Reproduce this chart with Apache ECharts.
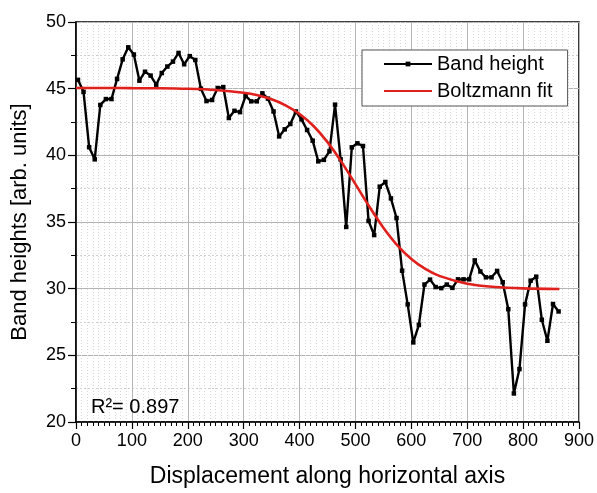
<!DOCTYPE html>
<html><head><meta charset="utf-8">
<script src="https://cdn.jsdelivr.net/npm/echarts@6/dist/echarts.min.js"></script>
<style>html,body{margin:0;padding:0;background:#fff}#c{width:597px;height:493px}</style>
</head><body><div id="c"></div>
<script>
const displacement = [3.5, 13.5, 23.5, 33.5, 43.5, 53.5, 63.5, 73.5, 83.5, 93.5,
  103.5, 113.5, 123.5, 133.5, 143.5, 153.5, 163.5, 173.5, 183.5, 193.5,
  203.5, 213.5, 223.5, 233.5, 243.5, 253.5, 263.5, 273.5, 283.5, 293.5,
  303.5, 313.5, 323.5, 333.5, 343.5, 353.5, 363.5, 373.5, 383.5, 393.5,
  403.5, 413.5, 423.5, 433.5, 443.5, 453.5, 463.5, 473.5, 483.5, 493.5,
  503.5, 513.5, 523.5, 533.5, 543.5, 553.5, 563.5, 573.5, 583.5, 593.5,
  603.5, 613.5, 623.5, 633.5, 643.5, 653.5, 663.5, 673.5, 683.5, 693.5,
  703.5, 713.5, 723.5, 733.5, 743.5, 753.5, 763.5, 773.5, 783.5, 793.5,
  803.5, 813.5, 823.5, 833.5, 843.5, 853.5, 863.5];
const bandHeight = [45.66, 44.76, 40.61, 39.70, 43.78, 44.22, 44.22, 45.73, 47.20, 48.10,
  47.56, 45.60, 46.27, 45.98, 45.30, 46.17, 46.66, 47.03, 47.68, 46.83,
  47.44, 47.15, 45.00, 44.07, 44.15, 45.05, 45.12, 42.80, 43.34, 43.24,
  44.46, 44.05, 44.05, 44.65, 44.25, 43.29, 41.42, 41.95, 42.35, 43.29,
  42.70, 41.90, 41.10, 39.55, 39.66, 40.30, 43.80, 39.70, 34.63, 40.60,
  40.90, 40.70, 35.08, 34.02, 37.65, 38.00, 36.77, 35.30, 31.35, 28.82,
  25.97, 27.28, 30.31, 30.68, 30.12, 30.04, 30.31, 30.06, 30.70, 30.70,
  30.70, 32.12, 31.29, 30.85, 30.85, 31.33, 30.48, 28.46, 22.14, 23.97,
  28.82, 30.60, 30.90, 27.67, 26.09, 28.85, 28.29];
const fitX = [0, 50, 100, 150, 200, 250, 300, 325, 350, 375, 400, 425, 450, 475, 500,
  525, 550, 575, 600, 625, 650, 700, 750, 800, 865];
const fitY = [45.05, 45.05, 45.04, 45.03, 44.99, 44.90, 44.69, 44.50, 44.20, 43.75, 43.10,
  42.20, 40.99, 39.51, 37.84, 36.14, 34.57, 33.25, 32.23, 31.48, 30.96, 30.37, 30.12, 30.02, 29.97];
const seriesNames = ['Band height', 'Boltzmann fit'];
const xTitle = 'Displacement along horizontal axis';
const yTitle = 'Band heights [arb. units]';
const r2Text = 'R\u00b2= 0.897';

const FONT = 'Liberation Sans, Arial, sans-serif';
const chart = echarts.init(document.getElementById('c'), null, {renderer: 'canvas'});
chart.setOption({
  animation: false,
  backgroundColor: '#fff',
  grid: {left: 76, right: 14, top: 22, bottom: 62, show: true, borderColor: '#000', borderWidth: 1.5, backgroundColor: 'transparent'},
  legend: {
    data: [{name: seriesNames[0]}, {name: seriesNames[1], itemStyle: {opacity: 0}}],
    orient: 'vertical', left: 362, top: 50,
    backgroundColor: '#fff', borderColor: '#555', borderWidth: 1,
    padding: [4, 15, 5, 21], itemWidth: 48, itemHeight: 6, itemGap: 7,
    textStyle: {fontFamily: FONT, fontSize: 20, color: '#000', lineHeight: 20}
  },
  xAxis: {
    type: 'value', min: 0, max: 900, interval: 100,
    name: xTitle, nameLocation: 'middle', nameGap: 43,
    nameTextStyle: {fontFamily: FONT, fontSize: 23, color: '#000'},
    axisLine: {show: true, onZero: false, lineStyle: {color: '#000', width: 1.5}},
    axisTick: {show: true, length: 7, lineStyle: {color: '#000', width: 1.2}},
    minorTick: {show: true, splitNumber: 10, length: 4, lineStyle: {color: '#000', width: 1}},
    axisLabel: {fontFamily: FONT, fontSize: 18, color: '#000', margin: 10},
    splitLine: {show: true, lineStyle: {color: '#b4b4b4', width: 1}},
    minorSplitLine: {show: true, lineStyle: {color: '#d8d8d8', width: 1, type: [1, 2]}}
  },
  yAxis: {
    type: 'value', min: 20, max: 50, interval: 5,
    name: yTitle, nameLocation: 'middle', nameGap: 45,
    nameTextStyle: {fontFamily: FONT, fontSize: 22, color: '#000'},
    axisLine: {show: true, onZero: false, lineStyle: {color: '#000', width: 1.5}},
    axisTick: {show: true, length: 8, lineStyle: {color: '#000', width: 1.2}},
    minorTick: {show: true, splitNumber: 2, length: 5, lineStyle: {color: '#000', width: 1}},
    axisLabel: {fontFamily: FONT, fontSize: 18, color: '#000', margin: 10},
    splitLine: {show: true, lineStyle: {color: '#b4b4b4', width: 1}},
    minorSplitLine: {show: true, lineStyle: {color: '#cfcfcf', width: 1, type: [2, 2]}}
  },
  graphic: [{
    type: 'text', left: 91, top: 397, z: 10,
    style: {text: r2Text, font: '20px ' + FONT, fill: '#000'}
  }],
  series: [
    {
      name: seriesNames[0], type: 'line', z: 3,
      data: displacement.map((x, i) => [x, bandHeight[i]]),
      symbol: 'rect', symbolSize: 4.5, showAllSymbol: true,
      lineStyle: {color: '#000', width: 2.4},
      itemStyle: {color: '#000'}
    },
    {
      name: seriesNames[1], type: 'line', z: 4,
      data: fitX.map((x, i) => [x, fitY[i]]),
      smooth: 0.3, symbol: 'none',
      lineStyle: {color: '#e0201c', width: 2.6},
      itemStyle: {color: '#e0201c'}
    }
  ]
});
</script></body></html>
